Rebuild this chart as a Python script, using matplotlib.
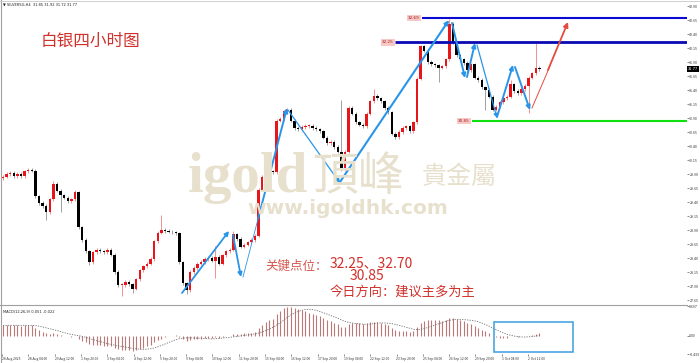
import numpy as np
import pandas as pd
import matplotlib
matplotlib.use("Agg")
import matplotlib.pyplot as plt
from matplotlib.patches import FancyArrowPatch, Rectangle
from matplotlib.lines import Line2D

plt.rcParams['font.family'] = ['Noto Sans CJK SC', 'DejaVu Sans']

# ---------------- data ----------------
closes = [
    29.85, 29.90, 29.92, 29.86, 29.90, 29.86, 29.95, 29.97, 29.96, 29.50,
    29.38, 29.33, 29.22, 29.45, 29.72, 29.60, 29.52, 29.48, 29.42, 29.45,
    29.58, 28.95, 28.72, 28.52, 28.32, 28.50, 28.55, 28.52, 28.50, 28.55,
    28.46, 28.15, 27.92, 27.92, 27.97, 27.93, 27.85, 28.02, 28.18, 28.25,
    28.30, 28.38, 28.70, 28.85, 28.90, 28.88, 28.87, 28.86, 28.84, 28.32,
    27.95, 27.83, 28.15, 28.22, 28.30, 28.33, 28.38, 28.40, 28.35, 28.42,
    28.30, 28.45, 28.52, 28.55, 28.82, 28.74, 28.60, 28.64, 28.68, 28.72,
    28.80, 29.62, 29.85, 29.90, 29.95, 29.93, 30.85, 30.88, 31.02, 31.05,
    30.85, 30.72, 30.70, 30.74, 30.76, 30.76, 30.72, 30.70, 30.66, 30.55,
    30.45, 30.47, 30.38, 30.30, 29.98, 30.30, 31.08, 30.98, 30.82, 30.78,
    30.76, 30.98, 31.20, 31.30, 31.25, 31.20, 31.08, 31.00, 30.62, 30.56,
    30.65, 30.72, 30.75, 30.66, 30.82, 31.60, 32.18, 32.10, 31.90, 31.86,
    31.84, 31.80, 31.82, 31.95, 32.58, 32.25, 32.02, 31.95, 31.88, 31.75,
    31.86, 31.62, 31.58, 31.45, 31.40, 31.28, 31.05, 31.10, 31.18, 31.25,
    31.28, 31.50, 31.38, 31.34, 31.42, 31.48, 31.62, 31.70, 31.80, 31.77,
]
first_open = 29.82
high_overrides = {14: 29.78, 21: 29.60, 44: 29.17, 59: 28.62, 64: 28.88,
                  94: 31.22, 103: 31.42, 124: 32.67, 141: 31.58, 148: 32.24}
low_overrides = {12: 29.08, 16: 29.22, 24: 28.28, 33: 27.72, 36: 27.78,
                 51: 27.76, 59: 28.05, 121: 31.54, 134: 31.05, 146: 30.99}

macd_main = [
    0.24, 0.24, 0.25, 0.24, 0.24, 0.23, 0.24, 0.25, 0.24, 0.18,
    0.13, 0.09, 0.05, 0.04, 0.05, 0.04, 0.02, 0.00, -0.02, -0.03,
    -0.02, -0.08, -0.12, -0.16, -0.20, -0.21, -0.22, -0.23, -0.24, -0.24,
    -0.25, -0.28, -0.31, -0.33, -0.34, -0.35, -0.36, -0.34, -0.31, -0.28,
    -0.25, -0.22, -0.16, -0.11, -0.07, -0.04, -0.02, 0.00, 0.01, -0.04,
    -0.09, -0.12, -0.10, -0.09, -0.08, -0.07, -0.06, -0.05, -0.05, -0.04,
    -0.05, -0.03, -0.02, 0.00, 0.03, 0.04, 0.04, 0.05, 0.06, 0.07,
    0.09, 0.17, 0.25, 0.31, 0.36, 0.39, 0.50, 0.58, 0.64, 0.68,
    0.68, 0.66, 0.63, 0.60, 0.57, 0.54, 0.51, 0.48, 0.45, 0.41,
    0.37, 0.34, 0.30, 0.27, 0.20, 0.20, 0.27, 0.30, 0.30, 0.29,
    0.28, 0.29, 0.31, 0.32, 0.31, 0.30, 0.28, 0.25, 0.18, 0.13,
    0.11, 0.10, 0.10, 0.09, 0.11, 0.20, 0.30, 0.35, 0.36, 0.37,
    0.37, 0.36, 0.35, 0.36, 0.42, 0.42, 0.40, 0.37, 0.34, 0.30,
    0.28, 0.23, 0.19, 0.14, 0.10, 0.05, -0.01, -0.04, -0.05, -0.05,
    -0.05, -0.02, -0.02, -0.03, -0.02, -0.02, 0.00, 0.02, 0.04, 0.05,
]

price_ticks = [27.65, 27.90, 28.15, 28.40, 28.65, 28.90, 29.15, 29.40, 29.65,
               29.90, 30.15, 30.40, 30.65, 30.90, 31.15, 31.40, 31.65, 31.90,
               32.15, 32.40, 32.65, 32.90]
macd_ticks = [0.697, 0.0, -0.433]
macd_tick_labels = ["0.697", "0.00", "-0.433"]
date_labels = ["28 Aug 2025", "28 Aug 04:00", "29 Aug 12:00", "1 Sep 20:00",
               "3 Sep 04:00", "4 Sep 12:00", "5 Sep 20:00", "9 Sep 04:00",
               "10 Sep 12:00", "11 Sep 20:00", "15 Sep 04:00", "16 Sep 12:00",
               "17 Sep 20:00", "19 Sep 04:00", "22 Sep 12:00", "23 Sep 20:00",
               "25 Sep 04:00", "26 Sep 12:00", "29 Sep 20:00", "1 Oct 04:00",
               "2 Oct 12:00"]
level_values = [32.69, 32.25, 30.85]
level_labels = ["32.69", "32.25", "30.85"]
current_price = 31.77
header_text = "SILVERSG,H4  31.85 31.92 31.72 31.77"
macd_header = "MACD(12,26,9) 0.051 -0.022"

# ---------------- geometry ----------------
W, H = 700, 363
PX_PER_BAR = 3.6
X0 = 3.0
TINY = 2.6


def bx(px):
    return (px - X0) / PX_PER_BAR


def py(y):
    return 32.65 - (y - 20) / 56.0


def fx(px_, py_):
    return (px_ / W, 1 - py_ / H)


fig = plt.figure(figsize=(7, 3.63), dpi=100)
fig.patch.set_facecolor('white')

ax = fig.add_axes([1 / W, 1 - 305 / H, 686 / W, 304 / H])
ax2 = fig.add_axes([1 / W, 1 - 354 / H, 686 / W, 48 / H])

for a in (ax, ax2):
    for s in a.spines.values():
        s.set_visible(False)
    a.set_facecolor('none')

ax.set_xlim(bx(1), bx(687))
ax.set_ylim(py(305), py(1))
ax2.set_xlim(bx(1), bx(687))
ax2.set_ylim(-0.433, 0.697)

n = len(closes)
x = np.arange(n)
c = np.array(closes)
o = np.concatenate([[first_open], c[:-1]])
hi = np.maximum(o, c) + 0.03
lo = np.minimum(o, c) - 0.03
for k, v in high_overrides.items():
    hi[k] = v
for k, v in low_overrides.items():
    lo[k] = v

up = c >= o
RED = '#e8161b'
cols = np.where(up, RED, '#000000')
wick_cols = np.where(up, '#f08080', '#909090')

# ---------------- watermark ----------------
wm = '#e7e0cd'
fig.text(*fx(188, 192), "igold", fontsize=41, fontweight='bold',
         family=['Liberation Serif'], color=wm, ha='left', va='baseline', zorder=0)
fig.text(*fx(312, 190), "頂峰", fontsize=33, color=wm, ha='left',
         va='baseline', zorder=0, family=['Noto Sans CJK TC'])
fig.text(*fx(422, 184), "貴金屬", fontsize=18, color=wm, ha='left',
         va='baseline', zorder=0, family=['Noto Sans CJK TC'])
fig.text(*fx(247, 214), "www.igoldhk.com", fontsize=14.5, fontweight='bold',
         color=wm, ha='left', va='baseline', zorder=0, family=['DejaVu Sans'])

# ---------------- candles ----------------
ax.vlines(x, lo, hi, colors=wick_cols, lw=0.6, zorder=2)
body_h = np.maximum(np.abs(c - o), 0.012)
ax.bar(x, body_h, bottom=np.minimum(o, c), width=0.72, color=cols,
       edgecolor=cols, lw=0, zorder=3)

# ---------------- level lines ----------------
line_specs = [
    (level_values[0], 422, '#0a0ad2', 1.5, 414),
    (level_values[1], 395, '#0a0ab4', 2.0, 388),
    (level_values[2], 472, '#10e010', 1.5, 464),
]
for (val, startpx, col, lw, labpx), lab in zip(line_specs, level_labels):
    ax.plot([bx(startpx), bx(687)], [val, val], color=col, lw=lw,
            solid_capstyle='butt', zorder=4)
    ax.text(bx(labpx), val, lab, fontsize=3.0, color='#b02020',
            ha='center', va='center', family=['DejaVu Sans'], zorder=6,
            bbox=dict(boxstyle='square,pad=0.3', fc='#f6c9c6', ec='none'))

# ---------------- arrows ----------------
BLUE = '#2a95e8'
arrow_specs = [
    ((182, 293), (229, 231), 1.3),
    ((233, 235), (241, 277), 1.3),
    ((258, 219), (287, 108), 1.4),
    ((288, 110), (340, 183), 0.9),
    ((340, 182), (449, 20), 1.5),
    ((452, 23), (465, 78), 1.4),
    ((467, 77), (475, 43), 1.4),
    ((477, 45), (497, 118), 0.9),
    ((497, 117), (513, 65), 1.4),
    ((515, 67), (530, 110), 1.4),
]
for (p0, p1, lw) in arrow_specs:
    arr = FancyArrowPatch((bx(p0[0]), py(p0[1])), (bx(p1[0]), py(p1[1])),
                          arrowstyle='-|>', mutation_scale=6, lw=lw,
                          color=BLUE, shrinkA=0, shrinkB=0, zorder=5)
    ax.add_patch(arr)
ax.plot([bx(243), bx(258)], [py(277), py(219)], color=BLUE, lw=0.6, zorder=5)
ax.plot([bx(532), bx(550)], [py(108), py(66)], color='#e84a40', lw=0.7, zorder=5)
arr = FancyArrowPatch((bx(548), py(70)), (bx(568), py(22)),
                      arrowstyle='-|>', mutation_scale=7, lw=1.3,
                      color='#e84a40', shrinkA=0, shrinkB=0, zorder=5)
ax.add_patch(arr)

# ---------------- right price axis ----------------
ax.yaxis.tick_right()
ax.set_yticks(price_ticks)
ax.set_yticklabels([f"{v:.2f}" for v in price_ticks])
ax.tick_params(axis='y', labelsize=TINY, length=1.2, width=0.4, pad=0.5,
               colors='#333333')
ax.set_xticks([])
ax.text(1.0008, current_price, f"{current_price:.2f}", transform=ax.get_yaxis_transform(),
        fontsize=TINY, color='white', ha='left', va='center', family=['DejaVu Sans'],
        bbox=dict(boxstyle='square,pad=0.25', fc='black', ec='none'), zorder=7)

# ---------------- MACD ----------------
m = pd.Series(macd_main)
signal = m.rolling(9, min_periods=1).mean()
ax2.vlines(x, 0, m.values, colors='#b06060', lw=0.8, alpha=0.85, zorder=2)
ax2.plot(x, signal.values, color='#707070', lw=0.6, ls=(0, (1.5, 1.5)), zorder=3)
ax2.yaxis.tick_right()
ax2.set_yticks(macd_ticks)
ax2.set_yticklabels(macd_tick_labels)
ax2.tick_params(axis='y', labelsize=TINY, length=1.2, width=0.4, pad=0.5,
                colors='#333333')
tick_pos = [bx(2 + 26.3 * k) for k in range(len(date_labels))]
ax2.set_xticks(tick_pos)
ax2.set_xticklabels(date_labels)
ax2.tick_params(axis='x', labelsize=2.4, length=1.2, width=0.4, pad=1.0,
                colors='#333333')
for t in ax2.get_xticklabels():
    t.set_ha('left')
ax2.add_patch(Rectangle((bx(494), 0.697 - (322 - 306) / 42.5), bx(573) - bx(494),
                        -(352 - 322) / 42.5, fill=False, ec='#3c9ee0', lw=1.1,
                        zorder=4))

# ---------------- frame lines ----------------
fig.add_artist(Line2D([0.5 / W, 0.5 / W], [0, 1], color='#a0a0a0', lw=0.8))
fig.add_artist(Line2D([0, 687 / W], [1 - 305 / H, 1 - 305 / H], color='#a0a0a0', lw=0.8))
fig.add_artist(Line2D([0, 1], [1 - 0.5 / H, 1 - 0.5 / H], color='#c8c8c8', lw=0.6))

# ---------------- texts ----------------
fig.text(*fx(3, 5), "▼ " + header_text, fontsize=TINY, color='#222222',
         ha='left', va='center', family=['DejaVu Sans'])
fig.text(*fx(3, 312), macd_header, fontsize=TINY, color='#222222',
         ha='left', va='center', family=['DejaVu Sans'])

TXT = '#d1312b'
fig.text(*fx(41, 41), "白银四小时图", fontsize=12, color=TXT, ha='left', va='center')
fig.text(*fx(265, 266), "关键点位：", fontsize=9, color='#d4574f', ha='left', va='center')
fig.text(*fx(330, 263), "32.25、32.70", fontsize=10, color=TXT, ha='left', va='center')
fig.text(*fx(350, 276), "30.85", fontsize=10, color=TXT, ha='left', va='center')
fig.text(*fx(330, 292), "今日方向：建议主多为主", fontsize=9.5, color=TXT, ha='left', va='center')

fig.savefig("out.png", dpi=100)
